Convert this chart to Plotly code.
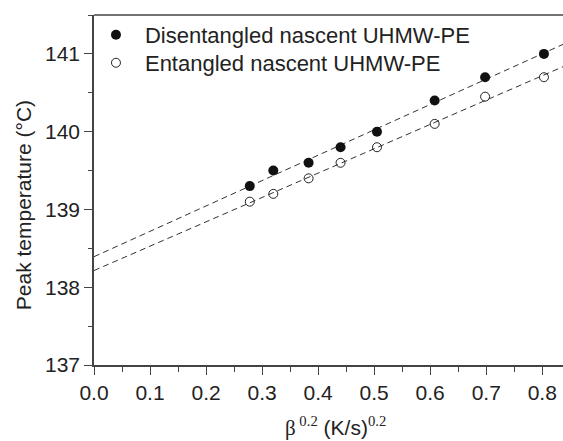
import numpy as np
import plotly.graph_objects as go

beta02 = [0.278, 0.320, 0.383, 0.440, 0.505, 0.608, 0.698, 0.803]
disentangled = [139.3, 139.5, 139.6, 139.8, 140.0, 140.4, 140.7, 141.0]
entangled = [139.1, 139.2, 139.4, 139.6, 139.8, 140.1, 140.45, 140.7]
names = ["Disentangled nascent UHMW-PE", "Entangled nascent UHMW-PE"]
x_ticks = [0.0, 0.1, 0.2, 0.3, 0.4, 0.5, 0.6, 0.7, 0.8]
y_ticks = [137, 138, 139, 140, 141]
x_title = ('<span style="font-family:Liberation Serif">β<sup> 0.2</sup></span> (K/s)'
           '<sup><span style="font-family:Liberation Serif">0.2</span></sup>')
y_title = "Peak temperature (°C)"

fig = go.Figure()
fit_x = np.array([0.0, 0.86])
for ys in (disentangled, entangled):
    k, b = np.polyfit(beta02, ys, 1)
    fig.add_trace(go.Scatter(x=fit_x, y=k * fit_x + b, mode="lines",
                             line=dict(color="#333", width=1, dash="6px,4px"),
                             showlegend=False, hoverinfo="skip"))

fig.add_trace(go.Scatter(x=beta02, y=disentangled, mode="markers", name=names[0],
                         legend="legend",
                         marker=dict(symbol="circle", size=10, color="#111",
                                     line=dict(width=0))))
fig.add_trace(go.Scatter(x=beta02, y=entangled, mode="markers", name=names[1],
                         legend="legend2",
                         marker=dict(symbol="circle-open", size=9, color="#222",
                                     line=dict(width=1))))

axcol = "#444"
leg_common = dict(x=-0.015, xanchor="left", yanchor="top",
                  bgcolor="rgba(0,0,0,0)", font=dict(size=22, color="#222"),
                  itemwidth=48)
fig.update_layout(
    width=563, height=441,
    margin=dict(l=94, r=0, t=15, b=76),
    paper_bgcolor="white", plot_bgcolor="white",
    font=dict(family="Liberation Sans, Arial, sans-serif", size=21, color="#222"),
    showlegend=True,
    legend=dict(y=1.003, **leg_common),
    legend2=dict(y=0.923, **leg_common),
    xaxis=dict(range=[0, 0.837], tickvals=x_ticks, ticktext=[f"{v:.1f}" for v in x_ticks],
               automargin=False,
               showgrid=False, zeroline=False, showline=True, linecolor=axcol, linewidth=1.5,
               ticks="outside", ticklen=8, tickwidth=1.3, tickcolor=axcol,
               minor=dict(dtick=0.05, ticks="outside", ticklen=5, tickwidth=1.3, tickcolor=axcol)),
    yaxis=dict(range=[137, 141.5], tickvals=y_ticks, automargin=False,
               showgrid=False, zeroline=False, showline=True, linecolor=axcol, linewidth=1.5,
               ticks="outside", ticklen=8, tickwidth=1.3, tickcolor=axcol,
               minor=dict(dtick=0.5, ticks="outside", ticklen=4, tickwidth=1.3, tickcolor=axcol)),
)
fig.add_annotation(text=x_title, xref="paper", yref="paper", x=0.515, y=-0.175,
                   xanchor="center", yanchor="middle", showarrow=False,
                   font=dict(size=21, color="#222"))
fig.add_annotation(text=y_title, xref="paper", yref="paper", x=-0.151, y=0.457,
                   xanchor="center", yanchor="middle", textangle=-90, showarrow=False,
                   font=dict(size=21, color="#222"))
fig.add_shape(type="line", xref="paper", yref="paper", x0=0, x1=1, y0=1, y1=1,
              line=dict(color=axcol, width=1.5))

fig.write_html("out.html", config={"displayModeBar": False},
               post_script="document.body.style.margin='0';document.body.style.overflow='hidden';")
